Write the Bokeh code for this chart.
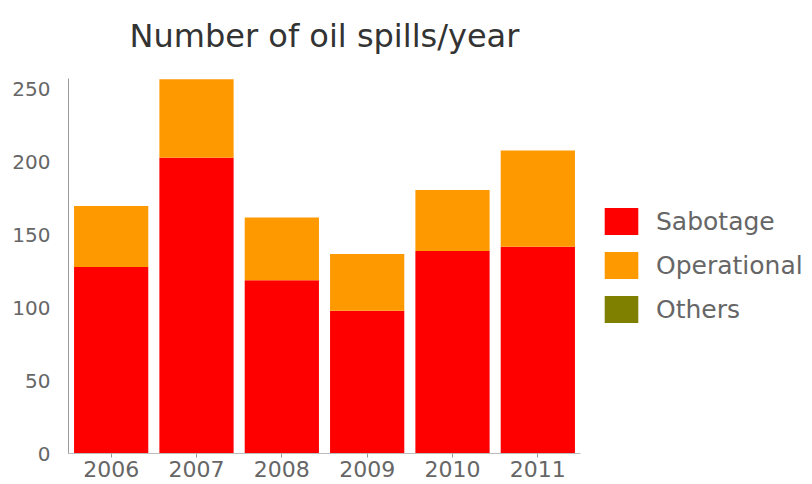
from bokeh.plotting import figure
from bokeh.models import Legend, LegendItem, ColumnDataSource, Range1d, FixedTicker, Label
from bokeh.embed import file_html
from bokeh.resources import INLINE

title = "Number of oil spills/year"
years = ["2006", "2007", "2008", "2009", "2010", "2011"]
sabotage = [128, 203, 119, 98, 139, 142]
operational = [42, 54, 43, 39, 42, 66]
others = [0, 0, 0, 0, 0, 0]
series = ["Sabotage", "Operational", "Others"]
colors = ["#FF0000", "#FF9900", "#7F7F00"]
y_ticks = [0, 50, 100, 150, 200, 250]

FONT = "DejaVu Sans"

# geometry of the plot (pixels)
W, H = 812, 484
LEFT, BOTTOM = 68, 31
CAT_PX = 512 / len(years)          # width of one category slot
Y_PX = 375 / 257.5                 # pixels per unit on y
frame_w, frame_h = W - LEFT, H - BOTTOM

xpos = [i + 0.5 for i in range(len(years))]
src = ColumnDataSource(dict(x=xpos, year=years, Sabotage=sabotage,
                            Operational=operational, Others=others))

p = figure(x_range=Range1d(0, frame_w / CAT_PX), y_range=Range1d(0, frame_h / Y_PX),
           width=W, height=H, output_backend="svg", toolbar_location=None,
           min_border_left=LEFT, min_border_right=0, min_border_top=0,
           min_border_bottom=BOTTOM)

renderers = p.vbar_stack(series, x="x", width=0.87, color=colors,
                         line_color=None, source=src)

legend = Legend(items=[LegendItem(label=s, renderers=[r]) for s, r in zip(series, renderers)])
legend.location = (532, 127)
legend.margin = 0
legend.padding = 10
legend.glyph_width = 42
legend.glyph_height = 34
legend.label_height = 34
legend.spacing = 10
legend.label_standoff = 14
legend.label_text_font = FONT
legend.label_text_font_size = "25px"
legend.label_text_color = "#666666"
legend.border_line_color = None
legend.background_fill_alpha = 0
p.add_layout(legend)

p.add_layout(Label(x=len(years) / 2, y=287, text=title, text_align="center",
                   text_baseline="middle", text_font=FONT, text_font_size="32px",
                   text_color="#333333"))

p.xgrid.grid_line_color = None
p.ygrid.grid_line_color = None
p.outline_line_color = None

p.yaxis.ticker = FixedTicker(ticks=y_ticks)
p.yaxis.bounds = (0, 257.5)
p.yaxis.major_tick_line_color = None
p.yaxis.minor_tick_line_color = None
p.yaxis.axis_line_color = "#999999"
p.yaxis.major_label_text_font = FONT
p.yaxis.major_label_text_font_size = "20px"
p.yaxis.major_label_text_color = "#666666"
p.yaxis.major_label_standoff = 12

p.xaxis.ticker = FixedTicker(ticks=xpos)
p.xaxis.major_label_overrides = {x: y for x, y in zip(xpos, years)}
p.xaxis.bounds = (0, len(years))
p.xaxis.axis_line_color = "#bbbbbb"
p.xaxis.major_tick_line_color = "#999999"
p.xaxis.minor_tick_line_color = None
p.xaxis.major_tick_out = 4
p.xaxis.major_tick_in = 0
p.xaxis.major_label_text_font = FONT
p.xaxis.major_label_text_font_size = "22px"
p.xaxis.major_label_text_color = "#666666"
p.xaxis.major_label_standoff = 3

open("out.html", "w").write(file_html(p, INLINE))
